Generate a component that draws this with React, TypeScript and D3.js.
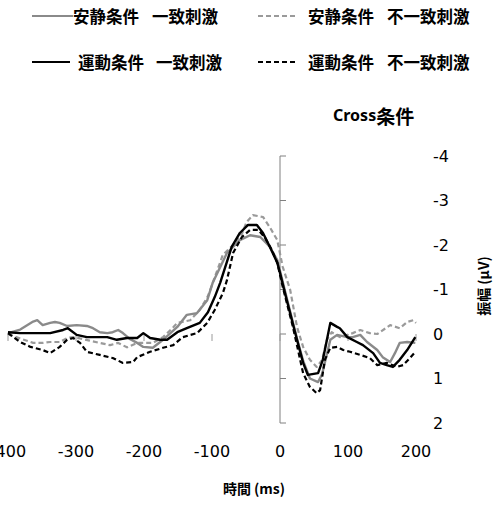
import React from "react";
import * as d3 from "d3";

const xTicks = [-400, -300, -200, -100, 0, 100, 200];
const yTicks = [-4, -3, -2, -1, 0, 1, 2];

// 安静条件 一致刺激 (gray solid)
const restCongruent: [number, number][] = [
  [-400, -0.02], [-382, -0.1], [-363, -0.28], [-357, -0.31], [-349, -0.2], [-338, -0.25], [-331, -0.27],
  [-324, -0.25], [-313, -0.18], [-299, -0.2], [-284, -0.18], [-275, -0.13], [-265, -0.04],
  [-254, -0.02], [-246, -0.04], [-238, -0.09], [-231, -0.02], [-221, 0.11], [-210, 0.2],
  [-201, 0.29], [-187, 0.31], [-172, 0.13], [-151, -0.16], [-137, -0.43], [-122, -0.47],
  [-107, -0.76], [-99, -1.15], [-78, -1.82], [-59, -2.11], [-44, -2.22], [-29, -2.18],
  [-15, -1.96], [-4, -1.66], [0, -1.42], [10, -0.8], [25, 0.1], [34, 0.6], [44, 1.0],
  [56, 1.08], [62, 0.9], [74, 0.13], [84, 0.02], [99, 0.07], [107, 0.07], [118, 0.02],
  [128, 0.18], [143, 0.36], [151, 0.52], [162, 0.63], [169, 0.43], [176, 0.2], [187, 0.18],
  [199, 0.2],
];

// 安静条件 不一致刺激 (gray dashed)
const restIncongruent: [number, number][] = [
  [-400, 0.0], [-382, 0.1], [-363, 0.2], [-349, 0.2], [-338, 0.18], [-324, 0.18], [-313, 0.09],
  [-304, 0.07], [-294, 0.1], [-280, 0.15], [-265, 0.2], [-250, 0.25], [-238, 0.2], [-225, 0.3],
  [-210, 0.2], [-201, 0.2], [-187, 0.2], [-172, 0.07], [-157, -0.15], [-151, -0.25],
  [-132, -0.31], [-118, -0.54], [-106, -0.85], [-84, -1.78], [-69, -2.0], [-56, -2.25],
  [-49, -2.52], [-40, -2.67], [-25, -2.63], [-15, -2.4], [-4, -2.11], [4, -1.51], [15, -0.99],
  [25, -0.16], [34, 0.29], [44, 0.58], [54, 0.74], [62, 0.58], [69, 0.13], [76, -0.04],
  [88, 0.07], [107, -0.02], [118, -0.09], [132, -0.02], [143, 0.0], [162, -0.2], [176, -0.13],
  [187, -0.27], [196, -0.31], [200, -0.25],
];

// 運動条件 一致刺激 (black solid)
const exerciseCongruent: [number, number][] = [
  [-400, -0.04], [-382, -0.02], [-363, -0.02], [-338, -0.02], [-319, -0.09], [-312, -0.13],
  [-299, 0.02], [-284, 0.07], [-265, 0.07], [-254, 0.07], [-240, 0.13], [-225, 0.09],
  [-210, 0.09], [-201, -0.02], [-191, 0.09], [-176, 0.13], [-166, 0.13], [-151, -0.04],
  [-137, -0.13], [-118, -0.25], [-106, -0.49], [-96, -0.83], [-88, -1.15], [-71, -1.96],
  [-59, -2.27], [-47, -2.45], [-34, -2.45], [-25, -2.27], [-15, -1.96], [-4, -1.6], [0, -1.37],
  [10, -0.76], [25, 0.13], [34, 0.65], [41, 0.92], [56, 0.88], [63, 0.58], [69, 0.13],
  [74, -0.25], [84, -0.16], [88, -0.13], [99, 0.07], [113, 0.18], [122, 0.25], [137, 0.43],
  [147, 0.65], [157, 0.7], [166, 0.74], [176, 0.58], [187, 0.36], [199, 0.07],
];

// 運動条件 不一致刺激 (black dashed)
const exerciseIncongruent: [number, number][] = [
  [-400, -0.02], [-382, 0.18], [-367, 0.29], [-349, 0.36], [-338, 0.43], [-324, 0.29],
  [-313, 0.13], [-304, 0.09], [-294, 0.2], [-284, 0.4], [-265, 0.47], [-246, 0.54],
  [-231, 0.65], [-216, 0.63], [-210, 0.52], [-191, 0.4], [-172, 0.31], [-157, 0.25],
  [-143, 0.07], [-122, -0.02], [-107, -0.25], [-96, -0.54], [-84, -0.92], [-78, -1.21],
  [-69, -1.82], [-56, -2.18], [-44, -2.34], [-32, -2.34], [-22, -2.16], [-12, -1.89],
  [-4, -1.6], [4, -1.06], [19, -0.16], [34, 0.88], [44, 1.19], [54, 1.33], [59, 1.26],
  [66, 0.58], [74, 0.31], [84, 0.29], [93, 0.36], [103, 0.4], [118, 0.47], [132, 0.54],
  [143, 0.7], [157, 0.65], [172, 0.74], [181, 0.7], [191, 0.54], [199, 0.4],
];

const seriesNames = ["安静条件", "安静条件", "運動条件", "運動条件"];
const stimulusNames = ["一致刺激", "不一致刺激", "一致刺激", "不一致刺激"];

const W = 498;
const H = 508;
const CJK = "'Noto Sans CJK JP', 'Noto Sans CJK SC', sans-serif";
const NUM = "'DejaVu Sans', sans-serif";

export default function App() {
  const x = d3.scaleLinear().domain([-400, 200]).range([8, 416]);
  const y = d3.scaleLinear().domain([-4, 2]).range([156, 423]);
  const line = d3
    .line<[number, number]>()
    .x((d) => x(d[0]))
    .y((d) => y(d[1]))
    .curve(d3.curveLinear);

  const series = [
    { data: restIncongruent, color: "#9a9a9a", dash: "5 3", width: 2.2 },
    { data: restCongruent, color: "#8a8a8a", dash: undefined, width: 2.4 },
    { data: exerciseIncongruent, color: "#000", dash: "5 3", width: 2.2 },
    { data: exerciseCongruent, color: "#000", dash: undefined, width: 2.4 },
  ];

  const legend = [
    { lx: 32, lx2: 73, tx: 73, tx2: 152, y: 16, color: "#8a8a8a", dash: undefined, i: 0 },
    { lx: 258, lx2: 297, tx: 308, tx2: 387, y: 16, color: "#9a9a9a", dash: "5 3", i: 1 },
    { lx: 32, lx2: 70, tx: 78, tx2: 156, y: 62, color: "#000", dash: undefined, i: 2 },
    { lx: 258, lx2: 297, tx: 308, tx2: 387, y: 62, color: "#000", dash: "5 3", i: 3 },
  ];

  return (
    <svg
      width={W}
      height={H}
      style={{ position: "absolute", left: 0, top: 0, background: "#fff" }}
    >
      <rect width={W} height={H} fill="#fff" />
      {/* Legend */}
      {legend.map((l) => (
        <g key={l.i}>
          <line
            x1={l.lx}
            x2={l.lx2}
            y1={l.y}
            y2={l.y}
            stroke={l.color}
            strokeWidth={2}
            strokeDasharray={l.dash}
          />
          <text
            x={l.tx}
            y={l.y}
            dominantBaseline="central"
            fontFamily={CJK}
            fontWeight="bold"
            fontSize={16.5}
            fill="#000"
          >
            {seriesNames[l.i]}
          </text>
          <text
            x={l.tx2}
            y={l.y}
            dominantBaseline="central"
            fontFamily={CJK}
            fontWeight="bold"
            fontSize={16.5}
            fill="#000"
          >
            {stimulusNames[l.i]}
          </text>
        </g>
      ))}

      {/* Title */}
      <text x={333} y={115} dominantBaseline="central" fontWeight="bold" fill="#000">
        <tspan fontFamily="'Noto Sans', sans-serif" fontSize={16}>Cross</tspan>
        <tspan fontFamily={CJK} fontSize={19}>条件</tspan>
      </text>

      {/* Y axis at x = 0 */}
      <line x1={x(0)} x2={x(0)} y1={y(-4)} y2={y(2)} stroke="#808080" strokeWidth={1} />
      {yTicks.map((t) => (
        <g key={t}>
          <line x1={x(0)} x2={x(0) + 6} y1={y(t)} y2={y(t)} stroke="#808080" strokeWidth={1} />
          <text
            x={433}
            y={y(t)}
            dominantBaseline="central"
            fontFamily={NUM}
            fontSize={16}
            fill="#000"
          >
            {t}
          </text>
        </g>
      ))}
      {/* X ticks at y = 0 */}
      {xTicks.map((t) => (
        <g key={t}>
          <line x1={x(t)} x2={x(t)} y1={y(0)} y2={y(0) + 7} stroke="#9a9a9a" strokeWidth={1} />
          <text
            x={x(t)}
            y={457}
            textAnchor="middle"
            fontFamily={NUM}
            fontSize={16}
            fill="#000"
          >
            {t}
          </text>
        </g>
      ))}

      {/* Series */}
      {series.map((s, i) => (
        <path
          key={i}
          d={line(s.data) || ""}
          fill="none"
          stroke={s.color}
          strokeWidth={s.width}
          strokeDasharray={s.dash}
          strokeLinejoin="round"
        />
      ))}

      {/* Axis titles */}
      <text
        x={254}
        y={488}
        textAnchor="middle"
        dominantBaseline="central"
        fontFamily={CJK}
        fontWeight="bold"
        fontSize={14}
        fill="#000"
      >
        時間 (ms)
      </text>
      <text
        transform={`translate(483, 286) rotate(-90)`}
        textAnchor="middle"
        dominantBaseline="central"
        fontFamily={CJK}
        fontWeight="bold"
        fontSize={14}
        fill="#000"
      >
        振幅 (μV)
      </text>
    </svg>
  );
}
